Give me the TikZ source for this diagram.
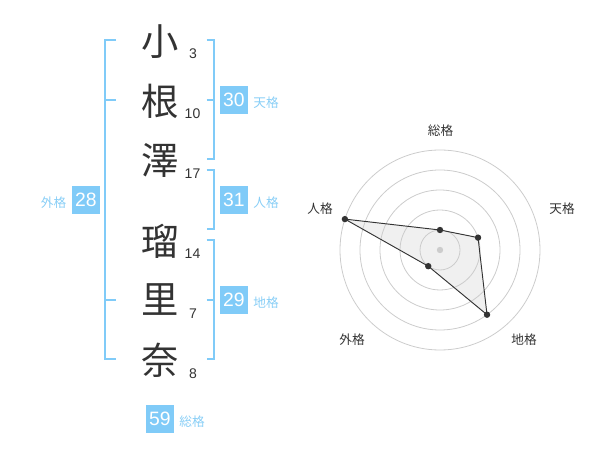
\documentclass[tikz,border=0pt]{standalone}
\usepackage{fontspec}
\setmainfont{Liberation Sans}
\newfontfamily\cjk{Noto Sans CJK JP}
\definecolor{kblue}{HTML}{80CBF8}
\definecolor{klabel}{HTML}{88CEF6}
\definecolor{ink}{HTML}{333333}
\definecolor{ringgray}{HTML}{CCCCCC}
\definecolor{polyfill}{HTML}{F0F0F0}
\begin{document}
\begin{tikzpicture}[x=0.75pt,y=-0.75pt,
  kanji/.style={font=\cjk\fontsize{28}{30}\selectfont, text=ink, inner sep=0pt},
  strokes/.style={font=\fontsize{10.5}{12}\selectfont, text=ink, inner sep=0pt},
  numbox/.style={fill=kblue, text=white, minimum width=21.5pt, minimum height=21.5pt, inner sep=0pt, font=\fontsize{14.5}{16}\selectfont},
  gname/.style={font=\cjk\fontsize{9.5}{11}\selectfont, text=klabel, inner sep=0pt},
  bracket/.style={draw=kblue, line width=1.5pt},
  ring/.style={draw=ringgray, line width=0.6pt},
  radlabel/.style={font=\cjk\fontsize{9.5}{11}\selectfont, text=ink, inner sep=0pt},
  vdot/.style={circle, fill=ink, inner sep=0pt, minimum size=4.8pt}
]
\useasboundingbox (0,0) rectangle (600,470);

% name characters
\node[kanji] (k1) at (160,41.7) {小};
\node[kanji] (k2) at (160,101.7) {根};
\node[kanji] (k3) at (160,160) {澤};
\node[kanji] (k4) at (160,241.7) {瑠};
\node[kanji] (k5) at (160,300) {里};
\node[kanji] (k6) at (160,360) {奈};

% stroke counts
\node[strokes] (s1) at (193,53.3) {3};
\node[strokes] (s2) at (192.5,113.3) {10};
\node[strokes] (s3) at (192.5,173.3) {17};
\node[strokes] (s4) at (192.5,253.3) {14};
\node[strokes] (s5) at (193,313.3) {7};
\node[strokes] (s6) at (193,373.3) {8};

% brackets
\draw[bracket] (116,40) -- (105,40) -- (105,359.5) -- (116,359.5);
\draw[bracket] (105,100) -- (116,100);
\draw[bracket] (105,300) -- (116,300);

\draw[bracket] (206.5,40) -- (214,40) -- (214,159.5) -- (206.5,159.5);
\draw[bracket] (206.5,100) -- (214,100);

\draw[bracket] (206.5,170) -- (214,170) -- (214,229.5) -- (206.5,229.5);

\draw[bracket] (206.5,240) -- (214,240) -- (214,359.5) -- (206.5,359.5);
\draw[bracket] (206.5,300) -- (214,300);

% grade boxes and names
\node[numbox] (b1) at (234,100) {30};
\node[gname] (g1) at (266,103) {天格};
\node[numbox] (b2) at (234,200) {31};
\node[gname] (g2) at (266,203) {人格};
\node[numbox] (b3) at (234,300) {29};
\node[gname] (g3) at (266,303) {地格};
\node[numbox] (b4) at (86,200) {28};
\node[gname] (g4) at (53.5,203) {外格};
\node[numbox] (b5) at (160,419) {59};
\node[gname] (g5) at (192,422) {総格};

% radar chart
\coordinate (c) at (440,250);
\coordinate (pS) at (440,230);
\coordinate (pT) at (478.04,237.64);
\coordinate (pC) at (487.02,314.72);
\coordinate (pG) at (428.24,266.18);
\coordinate (pJ) at (344.89,219.10);
\fill[polyfill] (pS) -- (pT) -- (pC) -- (pG) -- (pJ) -- cycle;
\foreach \r in {15,30,45,60,75} \draw[ring] (c) circle[radius=\r pt];
\node[circle, fill=ringgray, inner sep=0pt, minimum size=4.8pt] (cdot) at (c) {};
\draw[draw=ink, line width=0.7pt] (pS) -- (pT) -- (pC) -- (pG) -- (pJ) -- cycle;
\foreach \p in {pS,pT,pC,pG,pJ} \node[vdot] at (\p) {};

\node[radlabel] (rS) at (440.5,130.5) {総格};
\node[radlabel] (rT) at (562,209) {天格};
\node[radlabel] (rJ) at (320,209) {人格};
\node[radlabel] (rG) at (352,340) {外格};
\node[radlabel] (rC) at (524,340) {地格};
\end{tikzpicture}
\end{document}
